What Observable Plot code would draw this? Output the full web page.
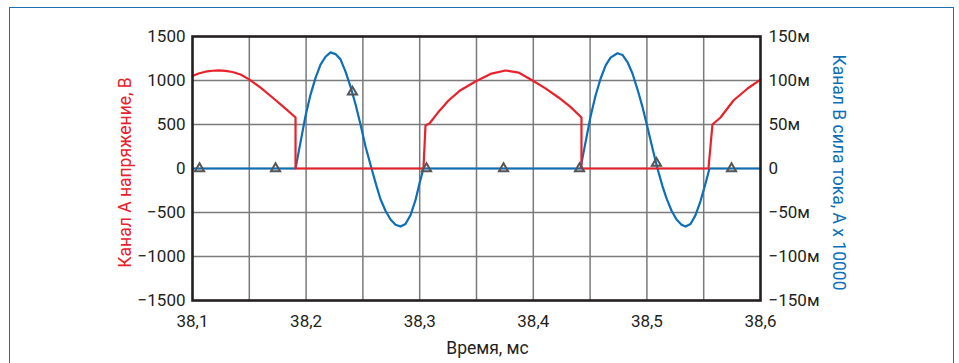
<!DOCTYPE html>
<html>
<head>
<meta charset="utf-8">
<script src="https://cdn.jsdelivr.net/npm/d3@7"></script>
<script src="https://cdn.jsdelivr.net/npm/@observablehq/plot@0.6"></script>
<style>
  html, body { margin: 0; padding: 0; background: #fff; }
  #wrap { position: relative; width: 959px; height: 363px; overflow: hidden; background: #fff; }
  #border { position: absolute; left: 9px; top: 7px; width: 945px; height: 400px; border: 1.5px solid #1d6fb5; box-sizing: border-box; }
  #chart { position: absolute; left: 0; top: 0; }
</style>
</head>
<body>
<div id="wrap"><div id="border"></div><div id="chart"></div></div>
<script>
// ---- Data ----
// Channel A: voltage, V
const voltageTime = [38.1000, 38.1053, 38.1114, 38.1176, 38.1229, 38.1290, 38.1352, 38.1423, 38.1502, 38.1599, 38.1704, 38.1801, 38.1907, 38.1907,
  38.3033, 38.3051, 38.3086, 38.3157, 38.3254, 38.3359, 38.3491, 38.3623, 38.3755, 38.3870, 38.3993, 38.4107, 38.4222, 38.4327, 38.4424, 38.4424,
  38.5542, 38.5577, 38.5648, 38.5762, 38.5886, 38.6000];
const voltageValue = [1050, 1080, 1100, 1111, 1114, 1110, 1097, 1068, 1010, 918, 807, 700, 580, 0,
  0, 490, 511, 630, 773, 890, 989, 1075, 1114, 1090, 1000, 910, 807, 700, 580, 0,
  0, 500, 580, 773, 909, 1011];

// Channel B: current, "м" units (A x 10000 scale shown on right axis)
const currentTime = [38.1000, 38.1907, 38.1951, 38.1995, 38.2039, 38.2083, 38.2127, 38.2171, 38.2215, 38.2259, 38.2303, 38.2347, 38.2391, 38.2435,
  38.2479, 38.2523, 38.2576, 38.2620, 38.2655, 38.2699, 38.2743, 38.2787, 38.2831, 38.2875, 38.2919, 38.2963, 38.2998, 38.3033,
  38.4415, 38.4460, 38.4504, 38.4548, 38.4592, 38.4636, 38.4680, 38.4741, 38.4785, 38.4829, 38.4873, 38.4917, 38.4961, 38.5005,
  38.5049, 38.5093, 38.5137, 38.5173, 38.5217, 38.5261, 38.5305, 38.5340, 38.5384, 38.5428, 38.5472, 38.5516, 38.5551, 38.6000];
const currentValue = [0, 0, 30, 60, 84, 103, 118, 127, 132, 130, 124, 110, 93, 73,
  50, 25, 0, -20, -35, -48, -58, -64, -66, -63, -53, -36, -17, 0,
  0, 30, 59, 83, 102, 117, 126, 131, 129, 121, 108, 90, 70, 47,
  23, 0, -20, -34, -48, -58, -64, -66, -63, -53, -37, -17, 0, 0];

// Triangle markers on channel B
const markerTime = [38.1062, 38.1731, 38.2408, 38.3060, 38.3738, 38.4407, 38.5084, 38.5745];
const markerCurrent = [0, 0, 87, 0, 0, 0, 6, 0];

// Axes
const xTicks = [38.1, 38.2, 38.3, 38.4, 38.5, 38.6];
const xTickLabels = ["38,1", "38,2", "38,3", "38,4", "38,5", "38,6"];
const xGrid = [38.15, 38.2, 38.25, 38.3, 38.35, 38.4, 38.45, 38.5, 38.55];
const voltageTicks = [-1500, -1000, -500, 0, 500, 1000, 1500];
const voltageTickLabels = ["−1500", "−1000", "−500", "0", "500", "1000", "1500"];
const voltageGrid = [-1000, -500, 0, 500, 1000];
const currentTicks = [-150, -100, -50, 0, 50, 100, 150];
const currentTickLabels = ["−150м", "−100м", "−50м", "0", "50м", "100м", "150м"];

const leftLabel = "Канал A напряжение, В";
const rightLabel = "Канал B сила тока, A x 10000";
const bottomLabel = "Время, мс";

// current axis shares the voltage scale: 150м ↔ 1500 V
const SCALE = 1500 / 150;

const RED = "#e8212a";
const BLUE = "#0d6fb8";
const INK = "#231f20";

const voltage = voltageTime.map((t, i) => ({t, v: voltageValue[i]}));
const current = currentTime.map((t, i) => ({t, c: currentValue[i]}));
const markers = markerTime.map((t, i) => ({t, c: markerCurrent[i]}));

const chart = Plot.plot({
  width: 959,
  height: 363,
  marginLeft: 192,
  marginRight: 199,
  marginTop: 36,
  marginBottom: 63,
  x: {domain: [38.1, 38.6]},
  y: {domain: [-1500, 1500]},
  style: {fontFamily: "Roboto, sans-serif", fontSize: "17px", color: INK, background: "transparent", overflow: "visible"},
  marks: [
    Plot.ruleX(xGrid, {stroke: "#7a7a7a", strokeWidth: 1.5}),
    Plot.ruleY(voltageGrid, {stroke: "#7a7a7a", strokeWidth: 1.5}),
    Plot.line(current, {x: "t", y: d => d.c * SCALE, stroke: BLUE, strokeWidth: 2.2}),
    Plot.line(voltage, {x: "t", y: "v", stroke: RED, strokeWidth: 2.2}),
    Plot.dot(markers, {x: "t", y: d => d.c * SCALE, symbol: "triangle", r: 3.4, stroke: "#555", strokeWidth: 2, fill: "none"}),
    Plot.frame({stroke: INK, strokeWidth: 2.6}),
    Plot.axisX({ticks: xTicks, tickFormat: d => xTickLabels[xTicks.indexOf(d)], tickSize: 0, tickPadding: 14, label: null, fontSize: 17, fill: INK}),
    Plot.axisY({anchor: "left", ticks: voltageTicks, tickFormat: d => voltageTickLabels[voltageTicks.indexOf(d)], tickSize: 0, tickPadding: 7, label: null, fontSize: 17, fill: INK}),
    Plot.axisY({anchor: "right", ticks: currentTicks.map(c => c * SCALE), tickFormat: d => currentTickLabels[currentTicks.indexOf(d / SCALE)], tickSize: 0, tickPadding: 8, label: null, fontSize: 17, fill: INK}),
    Plot.text([leftLabel], {text: d => d, frameAnchor: "left", textAnchor: "middle", lineAnchor: "middle", rotate: -90, dx: -67, dy: 4, fill: RED, fontSize: 17.5}),
    Plot.text([rightLabel], {text: d => d, frameAnchor: "right", textAnchor: "middle", lineAnchor: "middle", rotate: 90, dx: 78, dy: 4, fill: BLUE, fontSize: 17.5}),
    Plot.text([bottomLabel], {text: d => d, frameAnchor: "bottom", textAnchor: "middle", lineAnchor: "middle", dx: 11, dy: 48, fill: INK, fontSize: 17.5})
  ]
});
document.getElementById("chart").appendChild(chart);
</script>
</body>
</html>
